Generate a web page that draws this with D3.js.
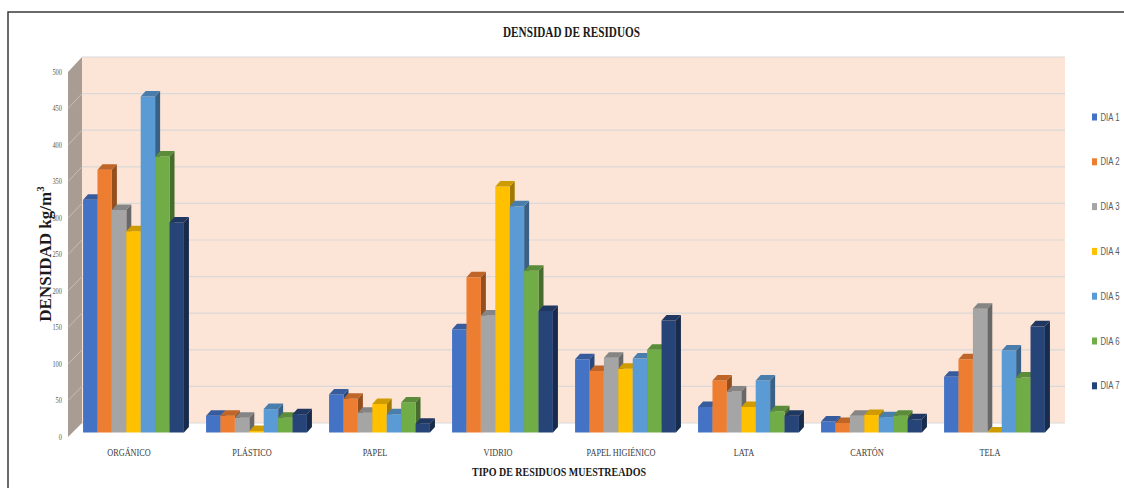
<!DOCTYPE html>
<html>
<head>
<meta charset="utf-8">
<script src="https://cdn.jsdelivr.net/npm/d3@7"></script>
<style>
  html, body { margin: 0; padding: 0; background: #fff; }
  svg { display: block; }
</style>
</head>
<body>
<div id="chart"></div>
<script>
const categories = ['ORGÁNICO', 'PLÁSTICO', 'PAPEL', 'VIDRIO', 'PAPEL HIGIÉNICO', 'LATA', 'CARTÓN', 'TELA'];
const seriesNames = ['DIA 1', 'DIA 2', 'DIA 3', 'DIA 4', 'DIA 5', 'DIA 6', 'DIA 7'];
const dia1 = [318, 23, 52, 141, 100, 35, 15, 76];
const dia2 = [359, 23, 46, 212, 84, 71, 13, 100];
const dia3 = [304, 20, 27, 160, 102, 56, 23, 169];
const dia4 = [275, 2, 39, 336, 87, 35, 24, 0];
const dia5 = [459, 32, 25, 309, 101, 71, 21, 112];
const dia6 = [377, 20, 41, 221, 113, 29, 23, 75];
const dia7 = [287, 25, 12, 166, 153, 23, 18, 145];
const seriesValues = [dia1, dia2, dia3, dia4, dia5, dia6, dia7];
const colors = ['#4472C4', '#ED7D31', '#A5A5A5', '#FFC000', '#5B9BD5', '#70AD47', '#264478'];
const yTicks = [0, 50, 100, 150, 200, 250, 300, 350, 400, 450, 500];

const width = 1124;
const height = 488;

const svg = d3.select('#chart').append('svg')
  .attr('width', width)
  .attr('height', height);

// outer frame
svg.append('rect')
  .attr('x', 8).attr('y', 12)
  .attr('width', 1300).attr('height', 600)
  .attr('fill', 'none')
  .attr('stroke', '#3a3a3a')
  .attr('stroke-width', 1.5);

// three depth planes of the 3d box
const yBack = d3.scaleLinear().domain([0, 500]).range([423, 57]);
const yBar = d3.scaleLinear().domain([0, 500]).range([432.5, 66.5]);
const yFront = d3.scaleLinear().domain([0, 500]).range([437, 72]);
const backLeft = 82, backRight = 1065, frontLeft = 68;

// back wall
svg.append('rect')
  .attr('x', backLeft).attr('y', yBack(500))
  .attr('width', backRight - backLeft).attr('height', yBack(0) - yBack(500))
  .attr('fill', '#FCE4D6');

// side wall
svg.append('path')
  .attr('d', `M${frontLeft},${yFront(500)}L${backLeft},${yBack(500)}L${backLeft},${yBack(0)}L${frontLeft},${yFront(0)}Z`)
  .attr('fill', '#A89C93');

svg.append('g')
  .selectAll('line')
  .data(yTicks)
  .join('line')
  .attr('x1', backLeft).attr('x2', backRight)
  .attr('y1', d => yBack(d)).attr('y2', d => yBack(d))
  .attr('stroke', '#D9D9D9')
  .attr('stroke-width', 1.2);

svg.append('g')
  .selectAll('line')
  .data(yTicks.slice(1, -1))
  .join('line')
  .attr('x1', frontLeft).attr('x2', backLeft)
  .attr('y1', d => yFront(d)).attr('y2', d => yBack(d))
  .attr('stroke', '#C9BEB6')
  .attr('stroke-width', 1);

// y tick labels
svg.append('g')
  .selectAll('text')
  .data(yTicks)
  .join('text')
  .attr('transform', d => `translate(62,${yFront(d) + 2.5}) scale(0.8,1)`)
  .attr('text-anchor', 'end')
  .attr('font-family', 'Liberation Serif')
  .attr('font-size', 8)
  .attr('fill', '#595959')
  .text(d => d);

// bars
const x0 = d3.scaleBand().domain(categories).range([72, 1056]).paddingInner(0.18).paddingOuter(0.09);
const x1 = d3.scaleBand().domain(seriesNames).range([0, x0.bandwidth()]);
const dx = 5, dy = 5.5;

const bars = [];
categories.forEach((c, ci) => {
  seriesNames.forEach((s, si) => {
    bars.push({cat: c, series: si, value: seriesValues[si][ci]});
  });
});

const bar = svg.append('g')
  .selectAll('g')
  .data(bars)
  .join('g');

bar.append('path')
  .attr('d', d => {
    const x = x0(d.cat) + x1(seriesNames[d.series]) + x1.bandwidth();
    const top = yBar(d.value), base = yBar(0);
    return `M${x},${top}L${x + dx},${top - dy}L${x + dx},${base - dy}L${x},${base}Z`;
  })
  .attr('fill', d => d3.color(colors[d.series]).darker(1.3));

bar.append('rect')
  .attr('x', d => x0(d.cat) + x1(seriesNames[d.series]))
  .attr('y', d => yBar(d.value))
  .attr('width', x1.bandwidth())
  .attr('height', d => yBar(0) - yBar(d.value))
  .attr('fill', d => colors[d.series]);

bar.append('path')
  .attr('d', d => {
    const x = x0(d.cat) + x1(seriesNames[d.series]);
    const w = x1.bandwidth();
    const top = yBar(d.value);
    return `M${x},${top}L${x + w},${top}L${x + w + dx},${top - dy}L${x + dx},${top - dy}Z`;
  })
  .attr('fill', d => d3.color(colors[d.series]).darker(0.6));

// category labels
svg.append('g')
  .selectAll('text')
  .data(categories)
  .join('text')
  .attr('transform', d => `translate(${x0(d) + x0.bandwidth() / 2 - 4.5},456) scale(0.75,1)`)
  .attr('text-anchor', 'middle')
  .attr('font-family', 'Liberation Serif')
  .attr('font-size', 11)
  .attr('fill', '#404040')
  .text(d => d);

// titles
svg.append('text')
  .attr('x', 503).attr('y', 37)
  .attr('textLength', 137)
  .attr('lengthAdjust', 'spacingAndGlyphs')
  .attr('font-family', 'Liberation Serif')
  .attr('font-weight', 'bold')
  .attr('font-size', 15)
  .attr('fill', '#1a1a1a')
  .text('DENSIDAD DE RESIDUOS');

svg.append('text')
  .attr('x', 472).attr('y', 476)
  .attr('textLength', 174)
  .attr('lengthAdjust', 'spacingAndGlyphs')
  .attr('font-family', 'Liberation Serif')
  .attr('font-weight', 'bold')
  .attr('font-size', 13)
  .attr('fill', '#1a1a1a')
  .text('TIPO DE RESIDUOS MUESTREADOS');

const yTitle = svg.append('text')
  .attr('transform', 'translate(51,254) rotate(-90)')
  .attr('text-anchor', 'middle')
  .attr('font-family', 'Liberation Serif')
  .attr('font-weight', 'bold')
  .attr('font-size', 17)
  .attr('fill', '#1a1a1a');
yTitle.append('tspan').text('DENSIDAD kg/m');
yTitle.append('tspan').attr('font-size', 11).attr('dy', -7).text('3');

// legend
const legend = svg.append('g')
  .selectAll('g')
  .data(seriesNames)
  .join('g')
  .attr('transform', (d, i) => `translate(1092,${117 + i * 44.8})`);

legend.append('rect')
  .attr('x', 0).attr('y', -3.5)
  .attr('width', 5).attr('height', 7)
  .attr('fill', (d, i) => colors[i]);

legend.append('text')
  .attr('x', 8.5).attr('y', 3.5)
  .attr('textLength', 19)
  .attr('lengthAdjust', 'spacingAndGlyphs')
  .attr('font-family', 'Liberation Sans')
  .attr('font-size', 10)
  .attr('fill', '#595959')
  .text(d => d);
</script>
</body>
</html>
